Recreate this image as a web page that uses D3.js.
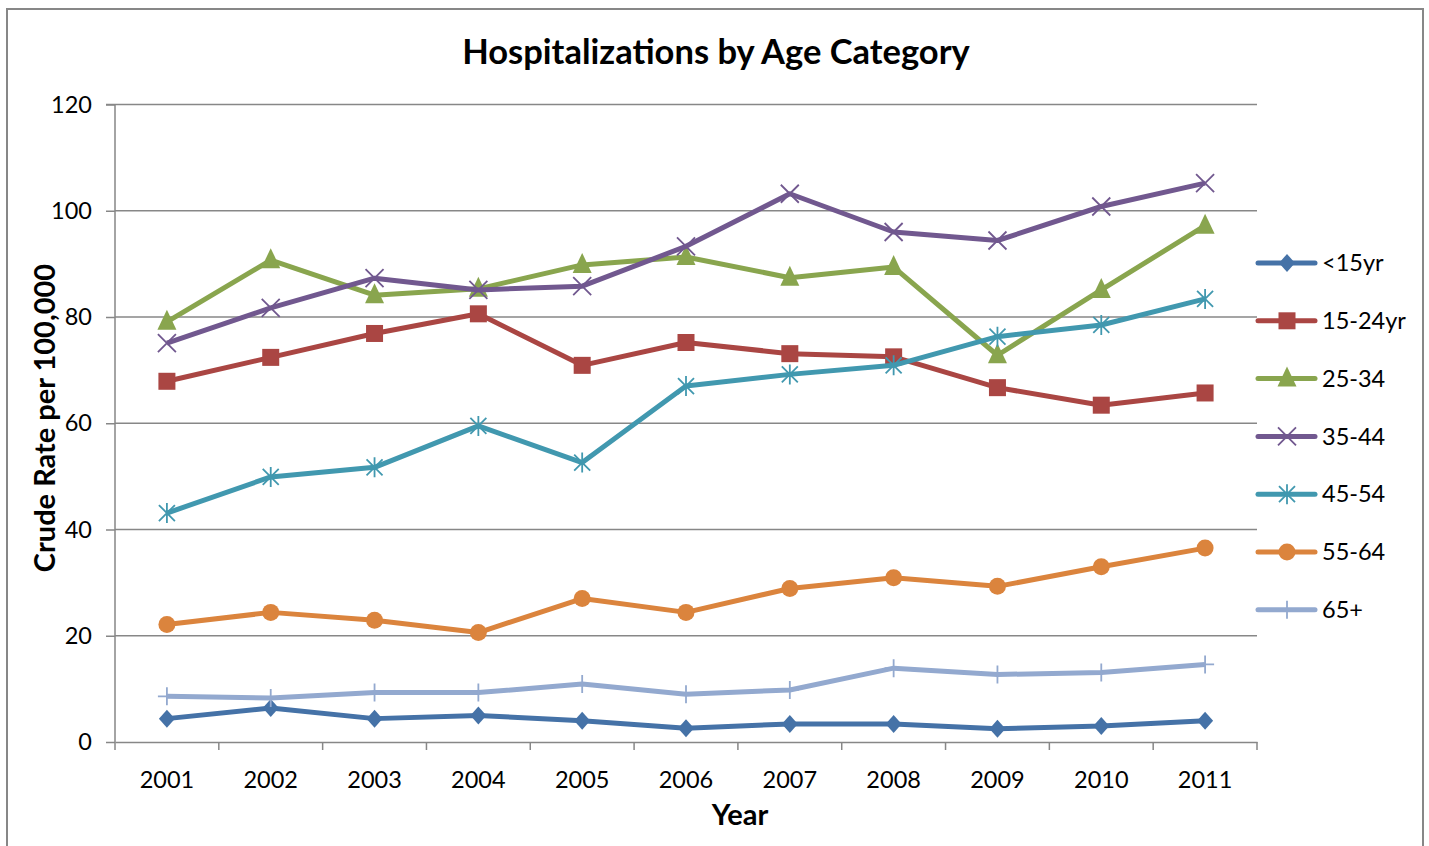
<!DOCTYPE html>
<html>
<head>
<meta charset="utf-8">
<script src="https://cdn.jsdelivr.net/npm/d3@7"></script>
<style>
  body { margin: 0; background: #fff; }
  svg text { font-family: Lato, "Open Sans", sans-serif; fill: #000; }
</style>
</head>
<body>
<svg width="1429" height="846"></svg>
<script>
const years = ['2001', '2002', '2003', '2004', '2005', '2006', '2007', '2008', '2009', '2010', '2011'];
const seriesNames = ['<15yr', '15-24yr', '25-34', '35-44', '45-54', '55-64', '65+'];
const under15 = [4.4, 6.4, 4.4, 5.0, 4.0, 2.6, 3.4, 3.4, 2.5, 3.0, 4.0];
const age15_24 = [67.9, 72.4, 76.9, 80.6, 70.9, 75.2, 73.1, 72.5, 66.7, 63.4, 65.7];
const age25_34 = [79.1, 90.7, 84.1, 85.3, 89.8, 91.3, 87.4, 89.4, 72.8, 85.1, 97.2];
const age35_44 = [75.1, 81.7, 87.3, 85.1, 85.8, 93.3, 103.2, 96.0, 94.4, 100.8, 105.2];
const age45_54 = [43.1, 49.9, 51.7, 59.5, 52.6, 67.0, 69.2, 70.9, 76.3, 78.5, 83.4];
const age55_64 = [22.1, 24.4, 22.9, 20.6, 27.0, 24.4, 28.9, 30.9, 29.3, 33.0, 36.5];
const age65plus = [8.6, 8.3, 9.3, 9.3, 10.9, 9.0, 9.8, 13.9, 12.7, 13.1, 14.6];
const yTicks = [0, 20, 40, 60, 80, 100, 120];

const colors = ['#4572A7', '#AA4643', '#89A54E', '#71588F', '#4198AF', '#DB843D', '#93A9CF'];
const markers = ['diamond', 'square', 'triangle', 'x', 'star', 'circle', 'plus'];
const values = [under15, age15_24, age25_34, age35_44, age45_54, age55_64, age65plus];

const series = seriesNames.map((name, i) => ({
  name: name, color: colors[i], marker: markers[i],
  points: years.map((yr, j) => ({year: yr, value: values[i][j]}))
}));

const svg = d3.select('svg');
const grey = '#878787';

// outer frame
svg.append('rect')
  .attr('x', 7).attr('y', 9).attr('width', 1416).attr('height', 850)
  .attr('fill', 'none').attr('stroke', grey).attr('stroke-width', 2);

const x = d3.scaleBand().domain(years).range([115, 1257]);
const y = d3.scaleLinear().domain([0, 120]).range([742, 104.5]);

// gridlines
svg.append('g')
  .selectAll('line')
  .data(yTicks.filter(d => d > 0))
  .join('line')
  .attr('x1', 115).attr('x2', 1257)
  .attr('y1', d => y(d)).attr('y2', d => y(d))
  .attr('stroke', grey).attr('stroke-width', 1.5);

// y axis
const yAxis = svg.append('g')
  .attr('transform', 'translate(115,0)')
  .call(d3.axisLeft(y).tickValues(yTicks).tickSize(9).tickPadding(14));
// x axis
const xAxis = svg.append('g')
  .attr('transform', 'translate(0,742)')
  .call(d3.axisBottom(x).tickSize(0).tickPadding(29));
xAxis.selectAll('.tick line').remove();
xAxis.append('g')
  .selectAll('line')
  .data(years.map(d => x(d)).concat([x.range()[1]]))
  .join('line')
  .attr('x1', d => d).attr('x2', d => d)
  .attr('y1', 0).attr('y2', 8)
  .attr('stroke', grey).attr('stroke-width', 1.5);

[yAxis, xAxis].forEach(a => {
  a.select('.domain').attr('stroke', grey).attr('stroke-width', 1.5);
  a.selectAll('.tick line').attr('stroke', grey).attr('stroke-width', 1.5);
  a.selectAll('text').style('font-size', '23.5px').attr('fill', '#000');
});
yAxis.select('.domain').attr('d', 'M0,' + y(0) + 'V' + y(120) + 'M-9,' + y(120) + 'H0');

// titles
svg.append('text')
  .attr('x', 716).attr('y', 64)
  .attr('text-anchor', 'middle')
  .style('font-size', '34.5px').style('font-weight', 'bold')
  .text('Hospitalizations by Age Category');
svg.append('text')
  .attr('transform', 'translate(55,418) rotate(-90)')
  .attr('text-anchor', 'middle')
  .style('font-size', '29px').style('font-weight', 'bold')
  .text('Crude Rate per 100,000');
svg.append('text')
  .attr('x', 740).attr('y', 825)
  .attr('text-anchor', 'middle')
  .style('font-size', '29px').style('font-weight', 'bold')
  .text('Year');

function drawMarker(g, type, color) {
  if (type === 'diamond') {
    g.append('path').attr('d', 'M0,-9L8,0L0,9L-8,0Z').attr('fill', color);
  } else if (type === 'square') {
    g.append('rect').attr('x', -8.5).attr('y', -8.5).attr('width', 17).attr('height', 17).attr('fill', color);
  } else if (type === 'triangle') {
    g.append('path').attr('d', 'M0,-12L9.5,8L-9.5,8Z').attr('fill', color);
  } else if (type === 'circle') {
    g.append('circle').attr('r', 8.5).attr('fill', color);
  } else if (type === 'x') {
    g.append('path').attr('d', 'M-9,-9L9,9M-9,9L9,-9')
      .attr('stroke', color).attr('stroke-width', 1.8).attr('fill', 'none');
  } else if (type === 'star') {
    g.append('path').attr('d', 'M-8,-8L8,8M-8,8L8,-8M0,-10V10')
      .attr('stroke', color).attr('stroke-width', 1.8).attr('fill', 'none');
  } else if (type === 'plus') {
    g.append('path').attr('d', 'M0,-9V9M-9,0H9')
      .attr('stroke', color).attr('stroke-width', 1.8).attr('fill', 'none');
  }
}

const line = d3.line()
  .x(d => x(d.year) + x.bandwidth() / 2)
  .y(d => y(d.value));

series.forEach(s => {
  const g = svg.append('g');
  g.append('path')
    .datum(s.points)
    .attr('fill', 'none')
    .attr('stroke', s.color)
    .attr('stroke-width', 5)
    .attr('stroke-linejoin', 'round')
    .attr('d', line);
  g.selectAll('.pt')
    .data(s.points)
    .join('g')
    .attr('class', 'pt')
    .attr('transform', d => `translate(${x(d.year) + x.bandwidth() / 2},${y(d.value)})`)
    .each(function() { drawMarker(d3.select(this), s.marker, s.color); });
});

// legend
const legend = svg.append('g');
series.forEach((s, i) => {
  const row = legend.append('g').attr('transform', `translate(1258,${263 + i * 57.8})`);
  row.append('line')
    .attr('x1', 0).attr('x2', 57)
    .attr('stroke', s.color).attr('stroke-width', 5).attr('stroke-linecap', 'round');
  drawMarker(row.append('g').attr('transform', 'translate(29,0)'), s.marker, s.color);
  row.append('text')
    .attr('x', 64).attr('dy', '0.35em')
    .style('font-size', '23.5px')
    .text(s.name);
});
</script>
</body>
</html>
